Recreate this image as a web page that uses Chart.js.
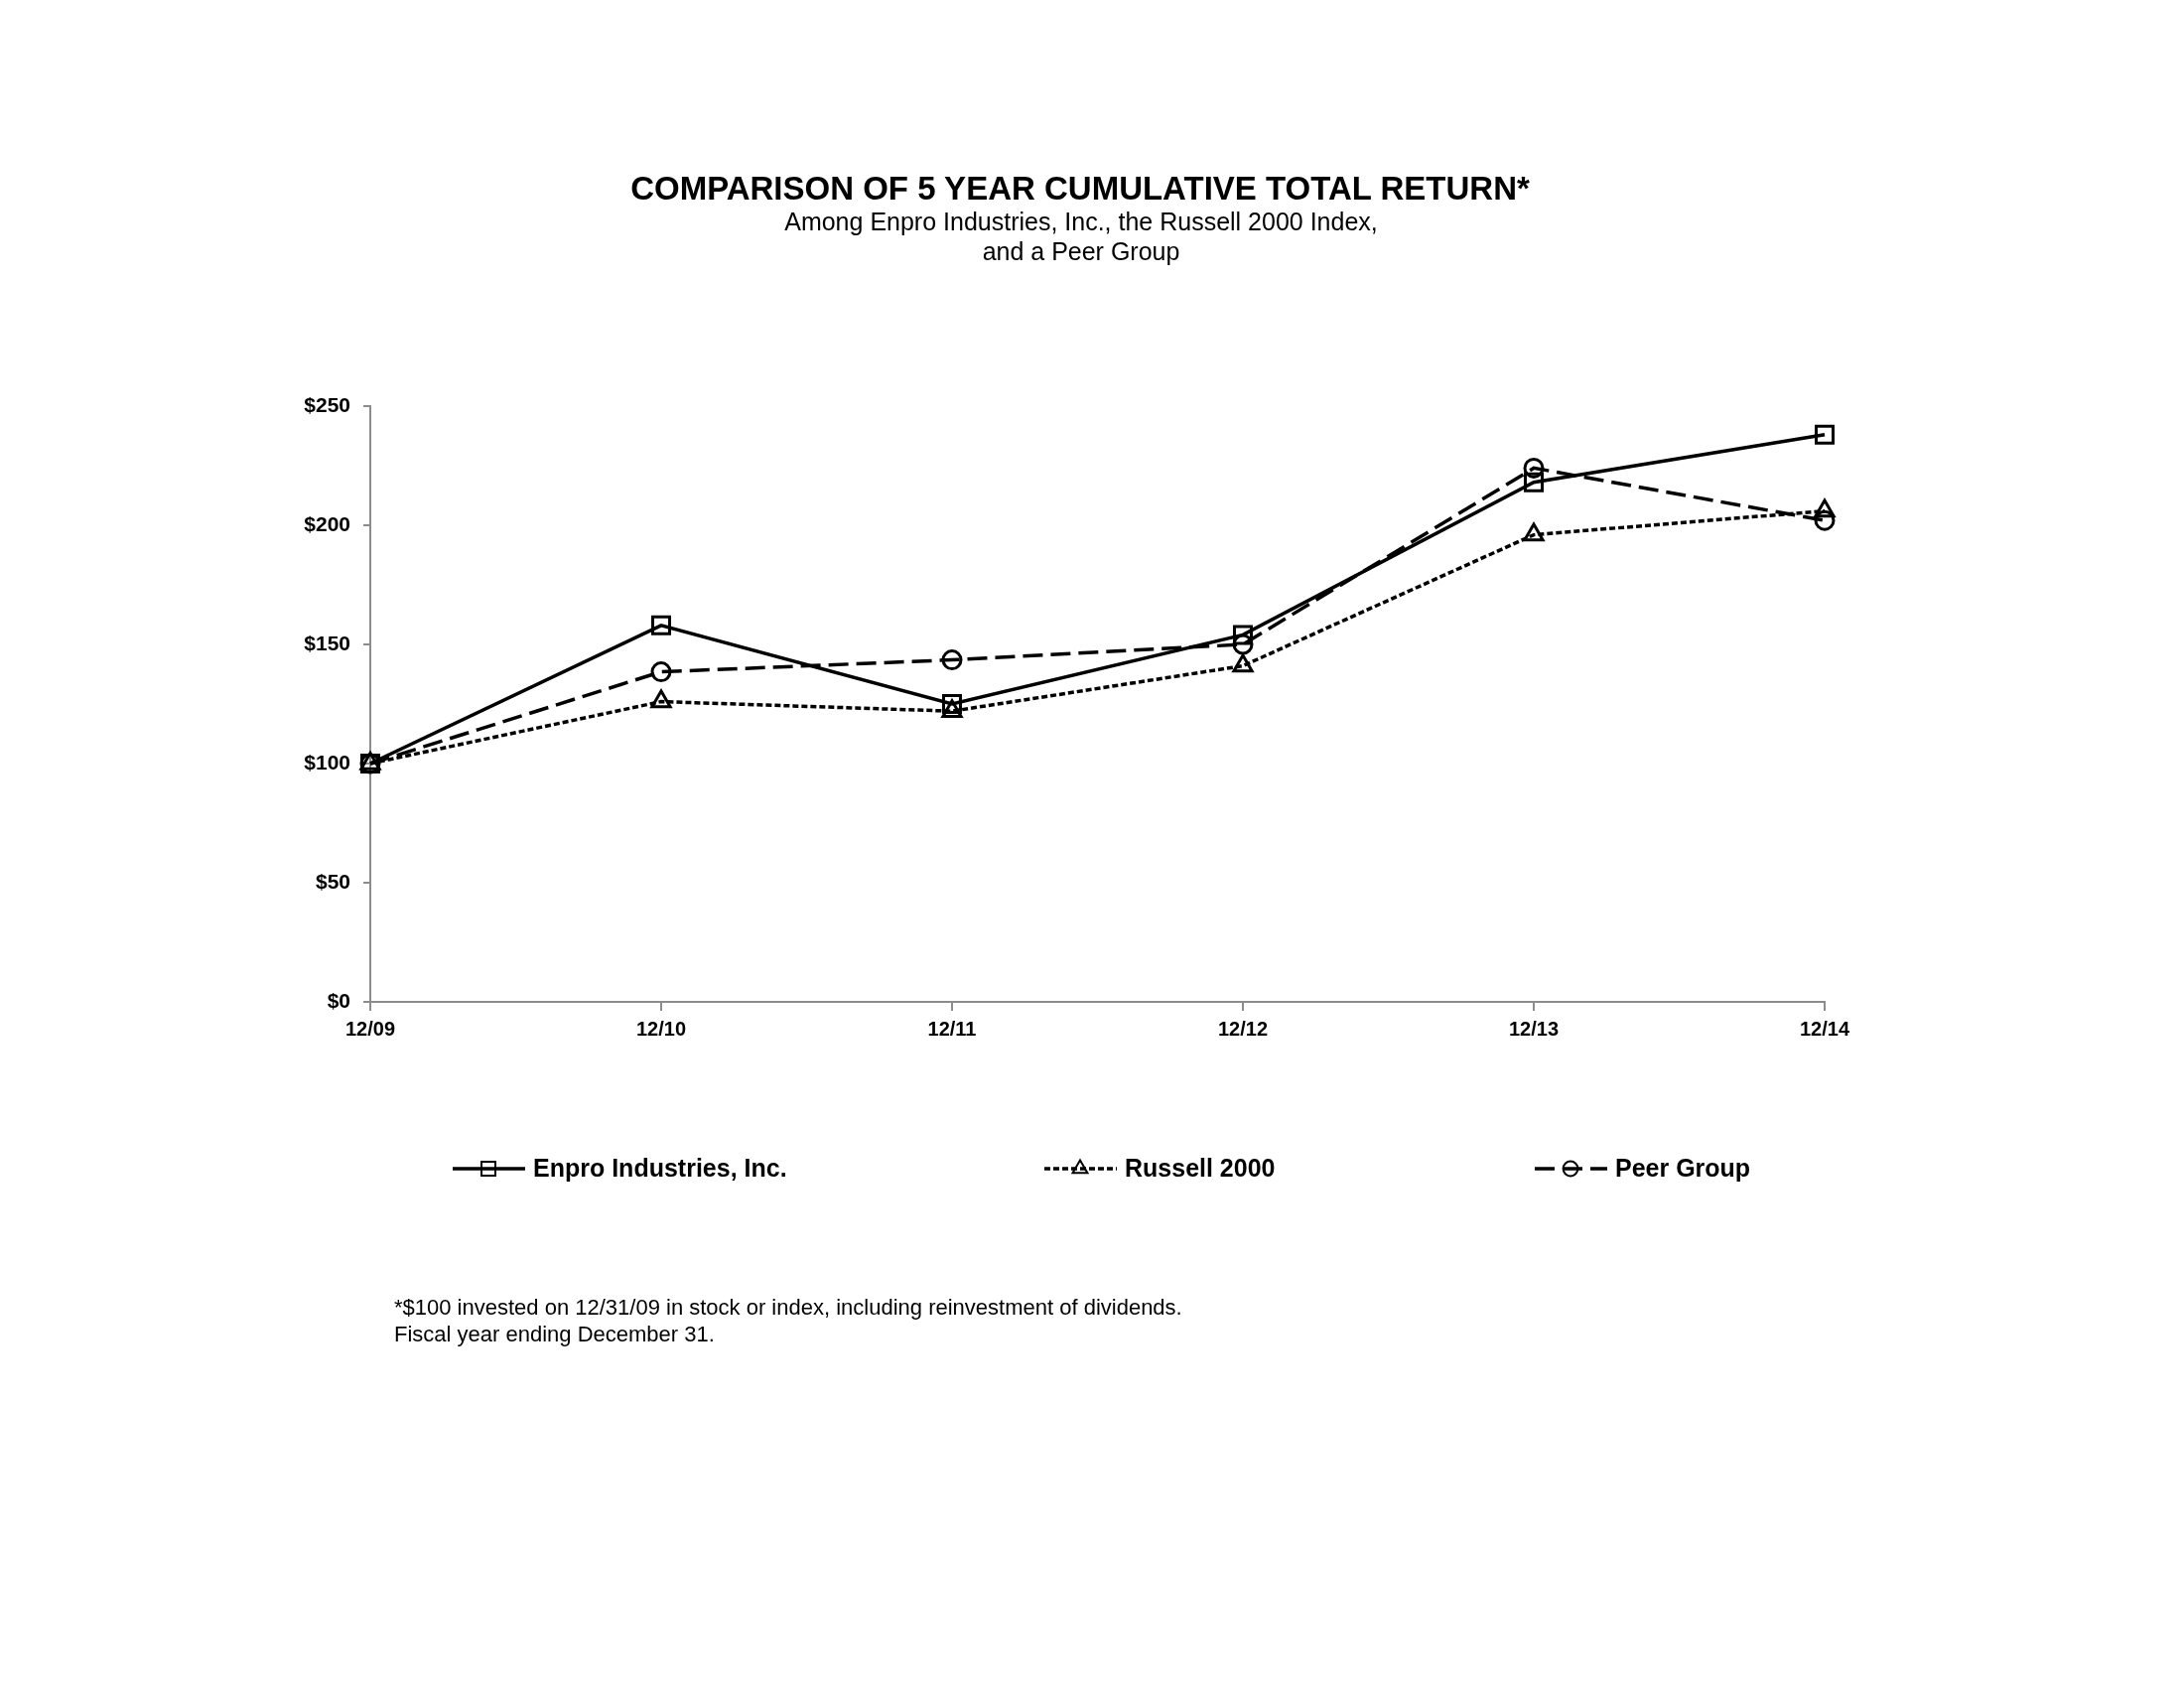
<!DOCTYPE html>
<html lang="en">
<head>
    <meta charset="UTF-8">
    <title>Comparison of 5 Year Cumulative Total Return</title>
    <script src="https://cdn.jsdelivr.net/npm/chart.js"></script>
    <style>
        body {
            margin: 0;
            background: #fff;
            font-family: 'Liberation Sans', Arial, sans-serif;
            color: #000;
        }
        .page {
            position: relative;
            width: 2200px;
            height: 1700px;
        }
        canvas {
            position: absolute;
            left: 0;
            top: 0;
        }
        .title {
            position: absolute;
            left: -12px;
            width: 2200px;
            top: 171px;
            text-align: center;
            font-weight: bold;
            font-size: 33px;
        }
        .subtitle {
            position: absolute;
            left: -11px;
            width: 2200px;
            top: 209px;
            text-align: center;
            font-size: 25px;
            line-height: 29.5px;
        }
        .note {
            position: absolute;
            left: 397px;
            top: 1303px;
            font-size: 22px;
            line-height: 27px;
        }
    </style>
</head>
<body>
<div class="page">
    <canvas id="returnChart" width="2200" height="1700"></canvas>
    <div class="title">COMPARISON OF 5 YEAR CUMULATIVE TOTAL RETURN*</div>
    <div class="subtitle">Among Enpro Industries, Inc., the Russell 2000 Index,<br>and a Peer Group</div>
    <div class="note">*$100 invested on 12/31/09 in stock or index, including reinvestment of dividends.<br>Fiscal year ending December 31.</div>
</div>

<script>
    const years = ['12/09', '12/10', '12/11', '12/12', '12/13', '12/14'];
    const enpro = [100, 158, 125, 154, 218, 238];
    const russell = [100, 126, 122, 141, 196, 206];
    const peerGroup = [100, 138.5, 143.5, 150, 224, 202];

    const axisGray = '#8c8c8c';
    const legendX = [456, 1052, 1546];
    const legendY = 1177;

    // draws the marker the same way the points look
    function drawMarker(ctx, style, r, x, y) {
        ctx.beginPath();
        if (style === 'rect') {
            const s = Math.SQRT1_2 * r;
            ctx.rect(x - s, y - s, 2 * s, 2 * s);
        } else if (style === 'triangle') {
            const h = r * 1.5;
            ctx.moveTo(x, y - r);
            ctx.lineTo(x - h / Math.sqrt(3), y + r / 2);
            ctx.lineTo(x + h / Math.sqrt(3), y + r / 2);
            ctx.closePath();
        } else {
            ctx.arc(x, y, r, 0, Math.PI * 2);
        }
        ctx.stroke();
    }

    const legendPlugin = {
        id: 'lineLegend',
        afterDraw(chart) {
            const ctx = chart.ctx;
            chart.data.datasets.forEach((ds, i) => {
                const x = legendX[i];
                ctx.save();
                ctx.strokeStyle = '#000';
                ctx.lineWidth = ds.borderWidth;
                ctx.setLineDash(ds.borderDash || []);
                ctx.beginPath();
                ctx.moveTo(x, legendY);
                ctx.lineTo(x + 73, legendY);
                ctx.stroke();
                ctx.setLineDash([]);
                ctx.lineWidth = 2;
                drawMarker(ctx, ds.pointStyle, ds.pointRadius * 0.82, x + 36, legendY);
                ctx.fillStyle = '#000';
                ctx.font = 'bold 25px "Liberation Sans", Arial, sans-serif';
                ctx.textBaseline = 'middle';
                ctx.fillText(ds.label, x + 81, legendY + 1);
                ctx.restore();
            });
        }
    };

    const ctx = document.getElementById('returnChart').getContext('2d');

    new Chart(ctx, {
        type: 'line',
        data: {
            labels: years,
            datasets: [
                {
                    label: 'Enpro Industries, Inc.',
                    data: enpro,
                    borderColor: '#000',
                    borderWidth: 3.5,
                    pointStyle: 'rect',
                    pointRadius: 12,
                    pointBorderWidth: 3,
                    pointBorderColor: '#000',
                    pointBackgroundColor: 'rgba(0,0,0,0)',
                    tension: 0
                },
                {
                    label: 'Russell 2000',
                    data: russell,
                    borderColor: '#000',
                    borderWidth: 3.5,
                    borderDash: [6, 3],
                    pointStyle: 'triangle',
                    pointRadius: 10.5,
                    pointBorderWidth: 3,
                    pointBorderColor: '#000',
                    pointBackgroundColor: 'rgba(0,0,0,0)',
                    tension: 0
                },
                {
                    label: 'Peer Group',
                    data: peerGroup,
                    borderColor: '#000',
                    borderWidth: 3.5,
                    borderDash: [20, 8],
                    pointStyle: 'circle',
                    pointRadius: 9,
                    pointBorderWidth: 3,
                    pointBorderColor: '#000',
                    pointBackgroundColor: 'rgba(0,0,0,0)',
                    tension: 0
                }
            ]
        },
        options: {
            responsive: false,
            animation: false,
            devicePixelRatio: 1,
            layout: {
                padding: { left: 273, top: 409, right: 362, bottom: 631 }
            },
            plugins: {
                legend: { display: false },
                title: { display: false },
                tooltip: { enabled: false }
            },
            scales: {
                x: {
                    offset: false,
                    afterFit(scale) { scale.height = 60; },
                    grid: {
                        drawOnChartArea: false,
                        drawTicks: true,
                        tickLength: 9,
                        color: axisGray,
                        lineWidth: 2
                    },
                    border: { color: axisGray, width: 2 },
                    ticks: {
                        color: '#000',
                        padding: 7,
                        maxRotation: 0,
                        font: { family: '"Liberation Sans", Arial, sans-serif', size: 20, weight: 'bold' }
                    }
                },
                y: {
                    min: 0,
                    max: 250,
                    afterFit(scale) { scale.width = 100; },
                    grid: {
                        drawOnChartArea: false,
                        drawTicks: true,
                        tickLength: 7,
                        color: axisGray,
                        lineWidth: 2
                    },
                    border: { color: axisGray, width: 2 },
                    ticks: {
                        stepSize: 50,
                        color: '#000',
                        padding: 13,
                        font: { family: '"Liberation Sans", Arial, sans-serif', size: 21, weight: 'bold' },
                        callback: value => '$' + value
                    }
                }
            }
        },
        plugins: [legendPlugin]
    });
</script>
</body>
</html>
